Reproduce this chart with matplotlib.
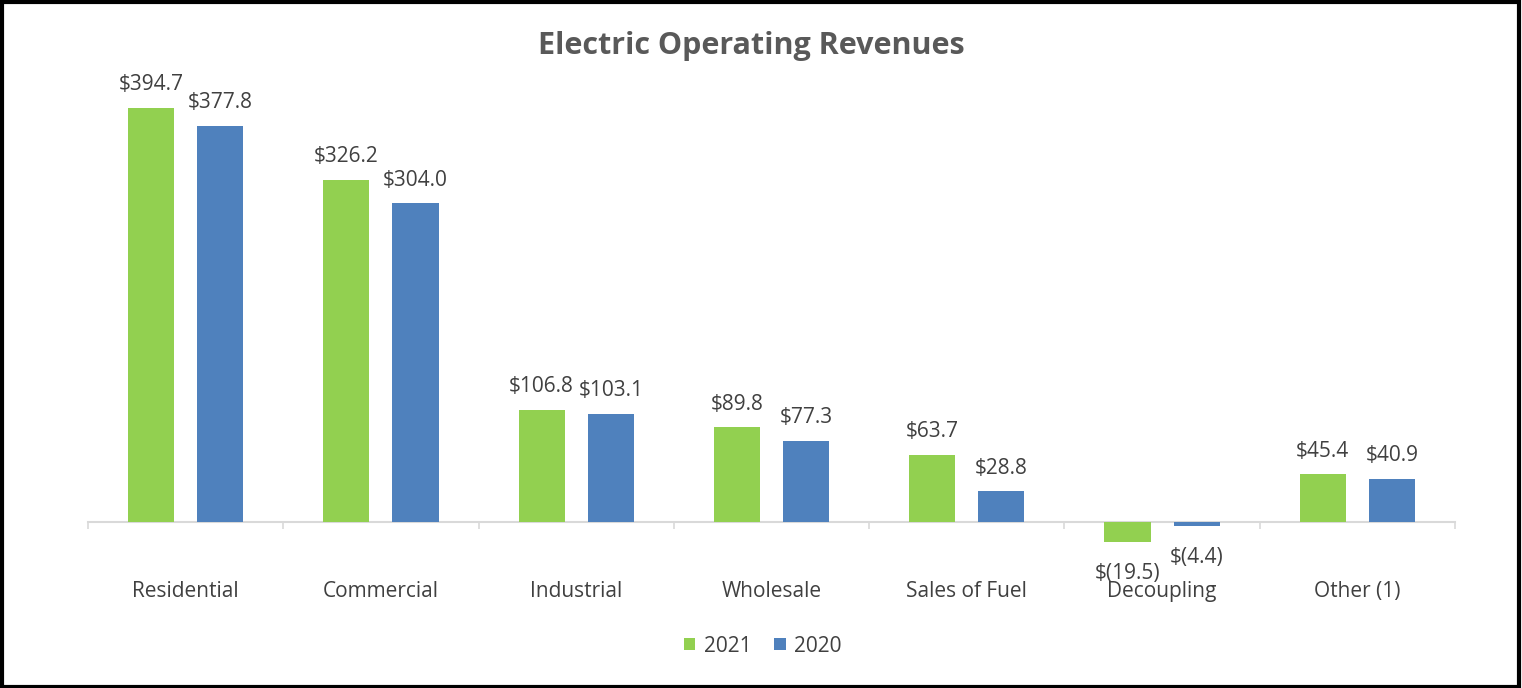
import numpy as np
import matplotlib
matplotlib.use("Agg")
import matplotlib.pyplot as plt
from matplotlib.patches import Rectangle
import matplotlib.transforms as mtransforms

# ==========================================================
# Dados
# ==========================================================
categorias = ["Residential", "Commercial", "Industrial", "Wholesale",
              "Sales of Fuel", "Decoupling", "Other (1)"]
valores_2021 = [394.7, 326.2, 106.8, 89.8, 63.7, -19.5, 45.4]
valores_2020 = [377.8, 304.0, 103.1, 77.3, 28.8, -4.4, 40.9]
series = ["2021", "2020"]

cor_2021 = "#92D050"
cor_2020 = "#4F81BD"
cor_texto = "#404040"

plt.rcParams["font.family"] = ["Open Sans", "DejaVu Sans"]


def formato(v):
    if v < 0:
        return f"$({abs(v):.1f})"
    return f"${v:.1f}"


# ==========================================================
# Figura
# ==========================================================
fig = plt.figure(figsize=(15.22, 6.88), dpi=100)
ax = fig.add_axes([88 / 1522, 1 - 574 / 688, (1455 - 88) / 1522, 524 / 688])

x = np.arange(len(categorias))
largura = 0.236
desloc = 0.177

barras_21 = ax.bar(x - desloc, valores_2021, largura, color=cor_2021, label=series[0])
barras_20 = ax.bar(x + desloc, valores_2020, largura, color=cor_2020, label=series[1])

for barras, valores in [(barras_21, valores_2021), (barras_20, valores_2020)]:
    for b, v in zip(barras, valores):
        cx = b.get_x() + b.get_width() / 2
        if v >= 0:
            ax.annotate(formato(v), (cx, v), xytext=(0, 9), textcoords="offset points",
                        ha="center", va="bottom", fontsize=15, color=cor_texto)
        else:
            ax.annotate(formato(v), (cx, v), xytext=(0, -15), textcoords="offset points",
                        ha="center", va="top", fontsize=15, color=cor_texto)

ax.set_xlim(-0.5, len(categorias) - 0.5)
ax.set_ylim(-50, 450)

# eixo horizontal em zero, com marcas entre categorias
for lado in ["top", "right", "left"]:
    ax.spines[lado].set_visible(False)
ax.spines["bottom"].set_position(("data", 0))
ax.spines["bottom"].set_color("#D9D9D9")
ax.spines["bottom"].set_linewidth(1.5)
ax.spines["bottom"].set_zorder(0)
ax.set_xticks(np.arange(len(categorias) + 1) - 0.5)
ax.set_xticklabels([])
ax.tick_params(axis="x", length=5, color="#D9D9D9", width=1.2, direction="out")
ax.set_yticks([])

trans = mtransforms.blended_transform_factory(ax.transData, ax.transAxes)
for i, nome in enumerate(categorias):
    ax.text(i, -0.034, nome, transform=trans, ha="center", va="center",
            fontsize=15, color=cor_texto)

fig.text(0.4935, 0.933, "Electric Operating Revenues", ha="center", va="center",
         fontsize=22, fontweight="bold", color="#595959")

fig.legend(handles=[barras_21, barras_20], labels=series, loc="center",
           bbox_to_anchor=(0.501, 0.061), ncol=2, frameon=False, fontsize=15,
           handlelength=0.55, handleheight=0.55, handletextpad=0.4, columnspacing=1.1,
           labelcolor=cor_texto)

# moldura preta
fig.patches.append(Rectangle((0.001, 0.002), 0.997, 0.995, transform=fig.transFigure,
                             fill=False, edgecolor="black", linewidth=3))

fig.savefig("out.png", dpi=100)
